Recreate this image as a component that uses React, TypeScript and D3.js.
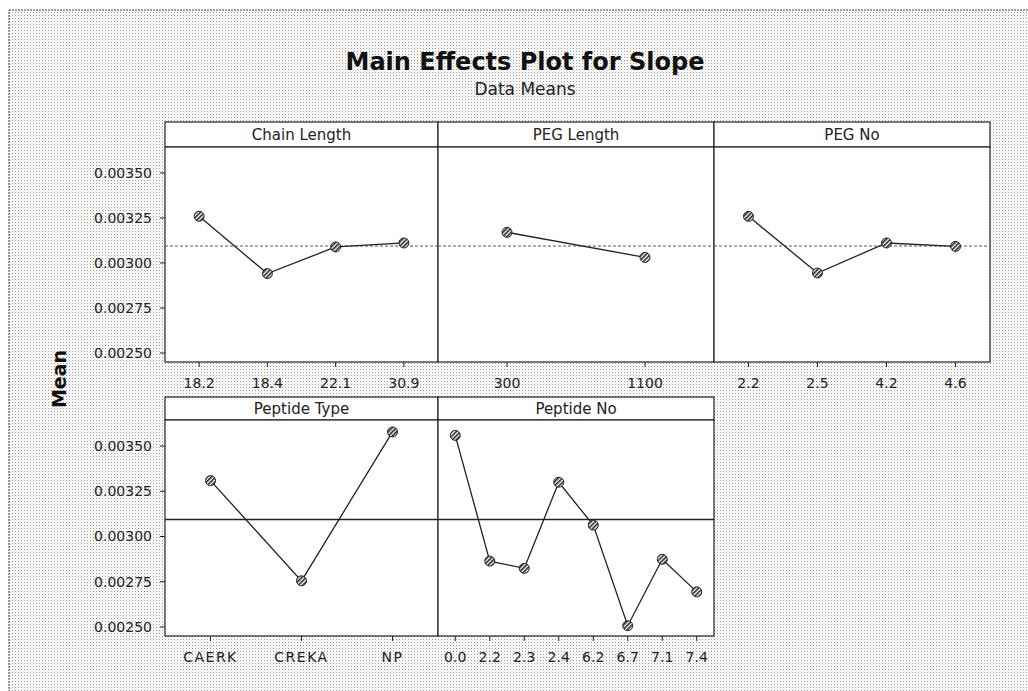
import React from "react";
import * as d3 from "d3";

const chainLevels = ["18.2", "18.4", "22.1", "30.9"];
const chainMeans = [0.003259, 0.002941, 0.003089, 0.003111];
const pegLengthLevels = ["300", "1100"];
const pegLengthMeans = [0.00317, 0.003031];
const pegNoLevels = ["2.2", "2.5", "4.2", "4.6"];
const pegNoMeans = [0.003259, 0.002944, 0.003111, 0.003092];
const peptideTypeLevels = ["CAERK", "CREKA", "NP"];
const peptideTypeMeans = [0.003309, 0.002755, 0.003578];
const peptideNoLevels = ["0.0", "2.2", "2.3", "2.4", "6.2", "6.7", "7.1", "7.4"];
const peptideNoMeans = [0.003559, 0.002864, 0.002824, 0.0033, 0.003063, 0.002507, 0.002874, 0.002694];
const grandMean = 0.003094;
const yTicks = [0.0025, 0.00275, 0.003, 0.00325, 0.0035];

const panels = [
  { name: "Chain Length", levels: chainLevels, means: chainMeans, row: 0, col: 0 },
  { name: "PEG Length", levels: pegLengthLevels, means: pegLengthMeans, row: 0, col: 1 },
  { name: "PEG No", levels: pegNoLevels, means: pegNoMeans, row: 0, col: 2 },
  { name: "Peptide Type", levels: peptideTypeLevels, means: peptideTypeMeans, row: 1, col: 0 },
  { name: "Peptide No", levels: peptideNoLevels, means: peptideNoMeans, row: 1, col: 1 },
];

const colEdges = [165, 438, 714, 990];
const rows = [
  { headerTop: 122, plotTop: 147, plotBottom: 362 },
  { headerTop: 397, plotTop: 420, plotBottom: 636 },
];
const FONT = "'DejaVu Sans', Verdana, sans-serif";

export default function App() {
  const yScales = rows.map((r) => d3.scaleLinear().domain([0.00245, 0.003644]).range([r.plotBottom, r.plotTop]));
  const fmt = d3.format(".5f");
  return (
    <svg width={1028} height={691} style={{ position: "absolute", left: 0, top: 0 }} fontFamily={FONT}>
      <defs>
        <pattern id="bgdots" width={3} height={3} patternUnits="userSpaceOnUse">
          <rect width={3} height={3} fill="#ffffff" />
          <rect x={0} y={0} width={1} height={1} fill="#999999" />
          <rect x={1.5} y={1.5} width={1} height={1} fill="#d0d0d0" />
        </pattern>
        <pattern id="hatch" width={3} height={3} patternUnits="userSpaceOnUse" patternTransform="rotate(45)">
          <rect width={3} height={3} fill="#ffffff" />
          <rect width={1.6} height={3} fill="#222" />
        </pattern>
      </defs>
      <rect x={0} y={0} width={1028} height={691} fill="#ffffff" />
      <rect x={9} y={10} width={1030} height={700} fill="url(#bgdots)" stroke="#444" strokeWidth={1} strokeDasharray="2,1" />
      <text x={525} y={70} textAnchor="middle" fontSize={24} fontWeight="bold" fill="#111">
        Main Effects Plot for Slope
      </text>
      <text x={525} y={95} textAnchor="middle" fontSize={17} fill="#222">
        Data Means
      </text>
      <text transform="translate(66,379) rotate(-90)" textAnchor="middle" fontSize={19} fontWeight="bold" fill="#111">
        Mean
      </text>
      {rows.map((r, ri) => (
        <g key={"yaxis" + ri}>
          {yTicks.map((t) => (
            <g key={t}>
              <line x1={colEdges[0] - 5} x2={colEdges[0]} y1={yScales[ri](t)} y2={yScales[ri](t)} stroke="#222" />
              <text x={colEdges[0] - 13} y={yScales[ri](t)} dy="0.35em" textAnchor="end" fontSize={14} fill="#222">
                {fmt(t)}
              </text>
            </g>
          ))}
        </g>
      ))}
      {panels.map((p) => {
        const r = rows[p.row];
        const x0 = colEdges[p.col];
        const x1 = colEdges[p.col + 1];
        const y = yScales[p.row];
        const x = d3.scalePoint<string>().domain(p.levels).range([x0, x1]).padding(0.5);
        const line = d3
          .line<number>()
          .x((_, i) => x(p.levels[i]) as number)
          .y((d) => y(d));
        return (
          <g key={p.name}>
            <rect x={x0} y={r.headerTop} width={x1 - x0} height={r.plotTop - r.headerTop} fill="#ffffff" stroke="#222" strokeWidth={1.2} />
            <text x={(x0 + x1) / 2} y={(r.headerTop + r.plotTop) / 2} dy="0.35em" textAnchor="middle" fontSize={15} fill="#222">
              {p.name}
            </text>
            <rect x={x0} y={r.plotTop} width={x1 - x0} height={r.plotBottom - r.plotTop} fill="#ffffff" stroke="#222" strokeWidth={1.2} />
            <line
              x1={x0}
              x2={x1}
              y1={y(grandMean)}
              y2={y(grandMean)}
              stroke={p.row === 0 ? "#555" : "#222"}
              strokeWidth={p.row === 0 ? 1 : 1.3}
              strokeDasharray={p.row === 0 ? "3,2" : undefined}
            />
            <path d={line(p.means) || ""} fill="none" stroke="#222" strokeWidth={1.3} />
            {p.means.map((m, i) => (
              <circle key={i} cx={x(p.levels[i])} cy={y(m)} r={5} fill="url(#hatch)" stroke="#222" strokeWidth={1} />
            ))}
            {p.levels.map((lv) => (
              <g key={lv}>
                <line x1={x(lv)} x2={x(lv)} y1={r.plotBottom} y2={r.plotBottom + 5} stroke="#222" />
                <text
                  x={x(lv)}
                  y={r.plotBottom + 21}
                  dy="0.35em"
                  textAnchor="middle"
                  fontSize={14}
                  letterSpacing={/^[A-Z]+$/.test(lv) ? 1.5 : 0}
                  fill="#222"
                >
                  {lv}
                </text>
              </g>
            ))}
          </g>
        );
      })}
    </svg>
  );
}
